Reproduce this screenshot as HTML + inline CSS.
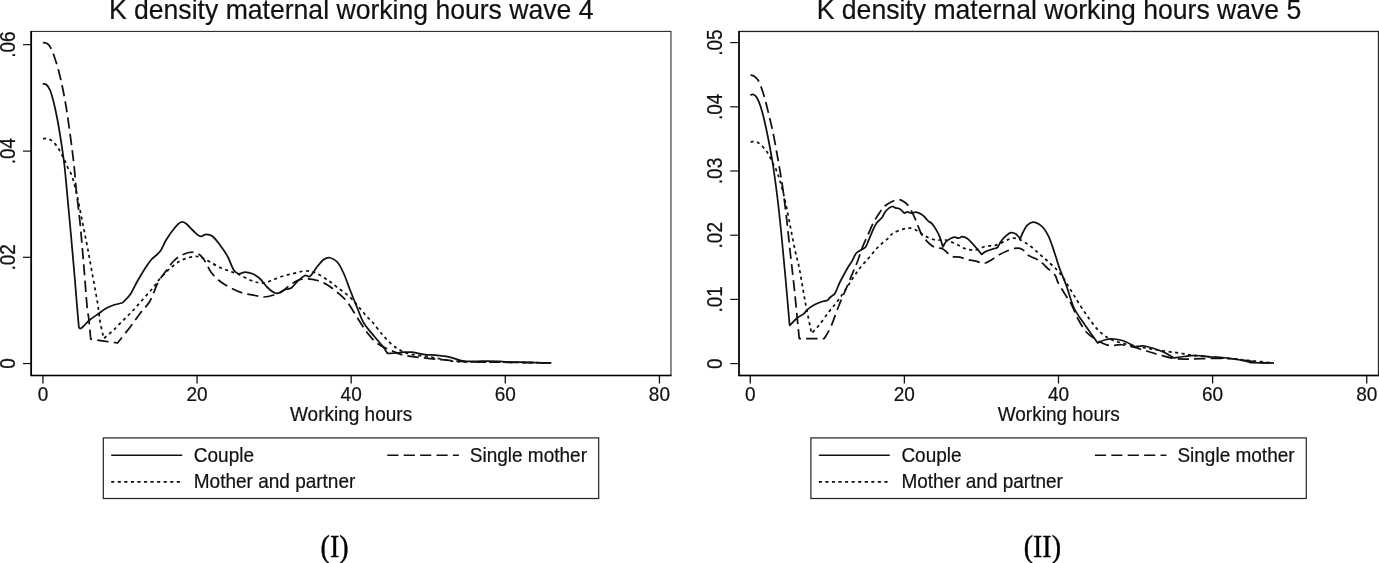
<!DOCTYPE html>
<html lang="en"><head><meta charset="utf-8"><title>K density maternal working hours</title>
<style>html,body{margin:0;padding:0;background:#fff}svg{display:block}</style></head>
<body>
<svg width="1379" height="563" viewBox="0 0 1379 563" font-family="'Liberation Sans', Arial, Helvetica, sans-serif" fill="#111" stroke="#111" stroke-width="0.2">
<rect width="1379" height="563" fill="#fff" stroke="none"/>
<rect x="31.2" y="31.45" width="639.75" height="344.05" fill="none" stroke="#333" stroke-width="1.15"/>
<path d="M31.2,30.95 V375.5 H671.45" fill="none" stroke="#000" stroke-width="1.7" stroke-linejoin="miter"/>
<line x1="42.95" y1="375.5" x2="42.95" y2="383.5" stroke="#111" stroke-width="1.3"/>
<text transform="translate(42.95,400.90) scale(1,1.04)" text-anchor="middle" font-size="19">0</text>
<line x1="197.07" y1="375.5" x2="197.07" y2="383.5" stroke="#111" stroke-width="1.3"/>
<text transform="translate(197.07,400.90) scale(1,1.04)" text-anchor="middle" font-size="19">20</text>
<line x1="351.19" y1="375.5" x2="351.19" y2="383.5" stroke="#111" stroke-width="1.3"/>
<text transform="translate(351.19,400.90) scale(1,1.04)" text-anchor="middle" font-size="19">40</text>
<line x1="505.31" y1="375.5" x2="505.31" y2="383.5" stroke="#111" stroke-width="1.3"/>
<text transform="translate(505.31,400.90) scale(1,1.04)" text-anchor="middle" font-size="19">60</text>
<line x1="659.43" y1="375.5" x2="659.43" y2="383.5" stroke="#111" stroke-width="1.3"/>
<text transform="translate(659.43,400.90) scale(1,1.04)" text-anchor="middle" font-size="19">80</text>
<line x1="23.0" y1="363.55" x2="31.2" y2="363.55" stroke="#111" stroke-width="1.2"/>
<text transform="translate(14.65,363.55) rotate(-90) scale(1,1.12)" text-anchor="middle" font-size="19">0</text>
<line x1="23.0" y1="257.30" x2="31.2" y2="257.30" stroke="#111" stroke-width="1.2"/>
<text transform="translate(14.65,257.30) rotate(-90) scale(1,1.12)" text-anchor="middle" font-size="19">.02</text>
<line x1="23.0" y1="151.10" x2="31.2" y2="151.10" stroke="#111" stroke-width="1.2"/>
<text transform="translate(14.65,151.10) rotate(-90) scale(1,1.12)" text-anchor="middle" font-size="19">.04</text>
<line x1="23.0" y1="44.65" x2="31.2" y2="44.65" stroke="#111" stroke-width="1.2"/>
<text transform="translate(14.65,44.65) rotate(-90) scale(1,1.12)" text-anchor="middle" font-size="19">.06</text>
<text transform="translate(351.20,19.20) scale(1,1.06)" text-anchor="middle" font-size="26.6">K density maternal working hours wave 4</text>
<text transform="translate(351.08,421.00) scale(1,1.04)" text-anchor="middle" font-size="19">Working hours</text>
<rect x="739.0" y="31.45" width="639.5" height="344.05" fill="none" stroke="#222" stroke-width="1.3"/>
<path d="M739.0,30.95 V375.5 H1379.0" fill="none" stroke="#000" stroke-width="1.45" stroke-linejoin="miter"/>
<line x1="750.25" y1="375.5" x2="750.25" y2="383.5" stroke="#111" stroke-width="1.3"/>
<text transform="translate(750.25,400.90) scale(1,1.04)" text-anchor="middle" font-size="19">0</text>
<line x1="904.37" y1="375.5" x2="904.37" y2="383.5" stroke="#111" stroke-width="1.3"/>
<text transform="translate(904.37,400.90) scale(1,1.04)" text-anchor="middle" font-size="19">20</text>
<line x1="1058.49" y1="375.5" x2="1058.49" y2="383.5" stroke="#111" stroke-width="1.3"/>
<text transform="translate(1058.49,400.90) scale(1,1.04)" text-anchor="middle" font-size="19">40</text>
<line x1="1212.61" y1="375.5" x2="1212.61" y2="383.5" stroke="#111" stroke-width="1.3"/>
<text transform="translate(1212.61,400.90) scale(1,1.04)" text-anchor="middle" font-size="19">60</text>
<line x1="1366.73" y1="375.5" x2="1366.73" y2="383.5" stroke="#111" stroke-width="1.3"/>
<text transform="translate(1366.73,400.90) scale(1,1.04)" text-anchor="middle" font-size="19">80</text>
<line x1="730.2" y1="363.60" x2="739.0" y2="363.60" stroke="#111" stroke-width="1.2"/>
<text transform="translate(721.80,363.60) rotate(-90) scale(1,1.12)" text-anchor="middle" font-size="19">0</text>
<line x1="730.2" y1="299.40" x2="739.0" y2="299.40" stroke="#111" stroke-width="1.2"/>
<text transform="translate(721.80,299.40) rotate(-90) scale(1,1.12)" text-anchor="middle" font-size="19">.01</text>
<line x1="730.2" y1="235.20" x2="739.0" y2="235.20" stroke="#111" stroke-width="1.2"/>
<text transform="translate(721.80,235.20) rotate(-90) scale(1,1.12)" text-anchor="middle" font-size="19">.02</text>
<line x1="730.2" y1="171.00" x2="739.0" y2="171.00" stroke="#111" stroke-width="1.2"/>
<text transform="translate(721.80,171.00) rotate(-90) scale(1,1.12)" text-anchor="middle" font-size="19">.03</text>
<line x1="730.2" y1="106.80" x2="739.0" y2="106.80" stroke="#111" stroke-width="1.2"/>
<text transform="translate(721.80,106.80) rotate(-90) scale(1,1.12)" text-anchor="middle" font-size="19">.04</text>
<line x1="730.2" y1="42.60" x2="739.0" y2="42.60" stroke="#111" stroke-width="1.2"/>
<text transform="translate(721.80,42.60) rotate(-90) scale(1,1.12)" text-anchor="middle" font-size="19">.05</text>
<text transform="translate(1059.00,19.20) scale(1,1.06)" text-anchor="middle" font-size="26.6">K density maternal working hours wave 5</text>
<text transform="translate(1058.75,421.00) scale(1,1.04)" text-anchor="middle" font-size="19">Working hours</text>
<path d="M42.75,83.75 C43.33,83.88 45.04,83.46 46.25,84.50 C47.46,85.54 48.75,87.00 50.00,90.00 C51.25,93.00 52.50,97.50 53.75,102.50 C55.00,107.50 56.25,113.33 57.50,120.00 C58.75,126.67 60.08,134.83 61.25,142.50 C62.42,150.17 63.46,156.83 64.50,166.00 C65.54,175.17 66.38,185.50 67.50,197.50 C68.62,209.50 70.08,225.08 71.25,238.00 C72.42,250.92 73.54,263.71 74.50,275.00 C75.46,286.29 76.27,297.00 77.00,305.75 C77.73,314.50 78.58,323.88 78.90,327.50 C79.08,327.67 79.57,328.42 80.00,328.50 C80.43,328.58 81.25,328.08 81.50,328.00 C81.88,327.67 82.33,327.38 83.75,326.00 C85.17,324.62 87.50,321.83 90.00,319.75 C92.50,317.67 96.25,315.29 98.75,313.50 C101.25,311.71 102.71,310.33 105.00,309.00 C107.29,307.67 109.58,306.54 112.50,305.50 C115.42,304.46 120.83,303.21 122.50,302.75 C123.75,301.42 127.50,298.38 130.00,294.75 C132.50,291.12 135.00,285.38 137.50,281.00 C140.00,276.62 142.71,272.04 145.00,268.50 C147.29,264.96 148.75,262.58 151.25,259.75 C153.75,256.92 157.50,254.83 160.00,251.50 C162.50,248.17 163.75,243.75 166.25,239.75 C168.75,235.75 172.50,230.46 175.00,227.50 C177.50,224.54 179.38,222.62 181.25,222.00 C183.12,221.38 184.38,222.42 186.25,223.75 C188.12,225.08 190.21,227.92 192.50,230.00 C194.79,232.08 197.71,235.54 200.00,236.25 C202.29,236.96 204.17,234.25 206.25,234.25 C208.33,234.25 210.21,234.46 212.50,236.25 C214.79,238.04 217.50,241.67 220.00,245.00 C222.50,248.33 225.21,252.08 227.50,256.25 C229.79,260.42 231.88,267.08 233.75,270.00 C235.62,272.92 236.88,273.42 238.75,273.75 C240.62,274.08 242.71,272.00 245.00,272.00 C247.29,272.00 250.00,272.62 252.50,273.75 C255.00,274.88 257.50,276.46 260.00,278.75 C262.50,281.04 265.00,285.12 267.50,287.50 C270.00,289.88 272.92,292.17 275.00,293.00 C277.08,293.83 278.33,293.08 280.00,292.50 C281.67,291.92 283.12,290.25 285.00,289.50 C286.88,288.75 289.17,289.38 291.25,288.00 C293.33,286.62 295.21,283.33 297.50,281.25 C299.79,279.17 302.92,276.33 305.00,275.50 C307.08,274.67 307.92,277.79 310.00,276.25 C312.08,274.71 315.21,269.04 317.50,266.25 C319.79,263.46 321.67,260.92 323.75,259.50 C325.83,258.08 327.71,257.29 330.00,257.75 C332.29,258.21 335.21,259.62 337.50,262.25 C339.79,264.88 341.67,268.92 343.75,273.50 C345.83,278.08 347.71,283.92 350.00,289.75 C352.29,295.58 355.21,302.96 357.50,308.50 C359.79,314.04 360.83,318.21 363.75,323.00 C366.67,327.79 371.88,333.42 375.00,337.25 C378.12,341.08 380.42,343.31 382.50,346.00 C384.58,348.69 386.67,352.17 387.50,353.40 C388.95,353.33 393.52,353.20 396.20,353.00 C398.88,352.80 400.90,352.33 403.60,352.20 C406.30,352.07 408.87,351.80 412.40,352.20 C415.93,352.60 420.65,354.08 424.80,354.60 C428.95,355.12 433.13,354.88 437.30,355.30 C441.47,355.72 445.63,356.17 449.80,357.10 C453.97,358.03 458.15,360.18 462.30,360.90 C466.45,361.62 470.55,361.38 474.70,361.40 C478.85,361.42 483.03,361.00 487.20,361.00 C491.37,361.00 495.53,361.22 499.70,361.40 C503.87,361.58 508.57,361.97 512.20,362.10 C515.83,362.23 514.99,362.05 521.50,362.20 C528.01,362.35 546.29,362.87 551.25,363.00" fill="none" stroke="#111" stroke-width="1.75" stroke-linejoin="round"/>
<path d="M42.90,42.60 C43.67,42.79 46.11,42.73 47.50,43.75 C48.89,44.77 50.00,46.25 51.25,48.75 C52.50,51.25 53.75,55.00 55.00,58.75 C56.25,62.50 57.50,66.46 58.75,71.25 C60.00,76.04 61.25,81.46 62.50,87.50 C63.75,93.54 65.08,100.42 66.25,107.50 C67.42,114.58 68.46,122.50 69.50,130.00 C70.54,137.50 71.67,145.83 72.50,152.50 C73.33,159.17 73.88,163.75 74.50,170.00 C75.12,176.25 75.33,181.25 76.25,190.00 C77.17,198.75 78.75,210.00 80.00,222.50 C81.25,235.00 82.58,251.12 83.75,265.00 C84.92,278.88 86.17,296.83 87.00,305.75 C87.83,314.67 88.12,312.92 88.75,318.50 C89.38,324.08 90.42,335.79 90.75,339.25 C95.21,339.88 113.04,342.38 117.50,343.00 C119.58,340.38 126.25,332.17 130.00,327.25 C133.75,322.33 136.67,317.88 140.00,313.50 C143.33,309.12 147.08,306.00 150.00,301.00 C152.92,296.00 155.00,288.29 157.50,283.50 C160.00,278.71 162.29,276.00 165.00,272.25 C167.71,268.50 170.83,263.92 173.75,261.00 C176.67,258.08 179.38,256.21 182.50,254.75 C185.62,253.29 189.58,252.21 192.50,252.25 C195.42,252.29 197.92,253.50 200.00,255.00 C202.08,256.50 203.12,258.33 205.00,261.25 C206.88,264.17 208.75,269.17 211.25,272.50 C213.75,275.83 216.88,278.75 220.00,281.25 C223.12,283.75 226.25,285.54 230.00,287.50 C233.75,289.46 238.33,291.67 242.50,293.00 C246.67,294.33 251.46,294.83 255.00,295.50 C258.54,296.17 260.62,297.08 263.75,297.00 C266.88,296.92 270.62,295.96 273.75,295.00 C276.88,294.04 279.79,292.92 282.50,291.25 C285.21,289.58 287.29,286.88 290.00,285.00 C292.71,283.12 295.83,281.04 298.75,280.00 C301.67,278.96 304.38,278.67 307.50,278.75 C310.62,278.83 314.17,279.46 317.50,280.50 C320.83,281.54 324.17,283.00 327.50,285.00 C330.83,287.00 334.17,289.62 337.50,292.50 C340.83,295.38 344.17,298.00 347.50,302.25 C350.83,306.50 354.17,312.88 357.50,318.00 C360.83,323.12 364.17,328.75 367.50,333.00 C370.83,337.25 373.75,340.67 377.50,343.50 C381.25,346.33 385.42,348.00 390.00,350.00 C394.58,352.00 398.33,354.07 405.00,355.50 C411.67,356.93 422.92,357.82 430.00,358.60 C437.08,359.38 441.67,359.68 447.50,360.20 C453.33,360.72 455.42,361.36 465.00,361.70 C474.58,362.04 490.62,362.03 505.00,362.25 C519.38,362.47 543.54,362.88 551.25,363.00" fill="none" stroke="#111" stroke-width="1.75" stroke-dasharray="11.2 5.2" stroke-linejoin="round"/>
<path d="M43.00,138.75 C43.75,138.71 45.92,138.08 47.50,138.50 C49.08,138.92 50.83,139.83 52.50,141.25 C54.17,142.67 56.04,144.92 57.50,147.00 C58.96,149.08 60.00,151.38 61.25,153.75 C62.50,156.12 63.88,158.88 65.00,161.25 C66.12,163.62 66.75,165.29 68.00,168.00 C69.25,170.71 70.92,172.58 72.50,177.50 C74.08,182.42 75.83,190.00 77.50,197.50 C79.17,205.00 80.83,214.17 82.50,222.50 C84.17,230.83 85.83,238.75 87.50,247.50 C89.17,256.25 90.83,265.83 92.50,275.00 C94.17,284.17 96.25,294.83 97.50,302.50 C98.75,310.17 98.96,315.00 100.00,321.00 C101.04,327.00 103.12,335.58 103.75,338.50 C105.21,337.25 109.38,333.92 112.50,331.00 C115.62,328.08 119.17,324.33 122.50,321.00 C125.83,317.67 129.17,314.54 132.50,311.00 C135.83,307.46 139.17,303.50 142.50,299.75 C145.83,296.00 149.58,292.04 152.50,288.50 C155.42,284.96 157.08,281.83 160.00,278.50 C162.92,275.17 166.67,271.42 170.00,268.50 C173.33,265.58 176.67,262.88 180.00,261.00 C183.33,259.12 187.08,258.00 190.00,257.25 C192.92,256.50 195.42,256.38 197.50,256.50 C199.58,256.62 200.42,257.08 202.50,258.00 C204.58,258.92 207.08,260.42 210.00,262.00 C212.92,263.58 216.67,265.96 220.00,267.50 C223.33,269.04 226.67,270.00 230.00,271.25 C233.33,272.50 236.67,273.54 240.00,275.00 C243.33,276.46 247.08,278.75 250.00,280.00 C252.92,281.25 255.00,282.00 257.50,282.50 C260.00,283.00 262.50,283.42 265.00,283.00 C267.50,282.58 269.58,281.12 272.50,280.00 C275.42,278.88 279.17,277.29 282.50,276.25 C285.83,275.21 289.17,274.58 292.50,273.75 C295.83,272.92 299.58,271.67 302.50,271.25 C305.42,270.83 307.50,270.83 310.00,271.25 C312.50,271.67 314.58,272.29 317.50,273.75 C320.42,275.21 324.17,277.71 327.50,280.00 C330.83,282.29 333.75,284.62 337.50,287.50 C341.25,290.38 346.25,293.75 350.00,297.25 C353.75,300.75 357.08,305.17 360.00,308.50 C362.92,311.83 365.42,314.96 367.50,317.25 C369.58,319.54 370.00,319.33 372.50,322.25 C375.00,325.17 379.38,331.12 382.50,334.75 C385.62,338.38 388.33,341.46 391.25,344.00 C394.17,346.54 396.88,348.33 400.00,350.00 C403.12,351.67 405.00,352.83 410.00,354.00 C415.00,355.17 423.75,355.97 430.00,357.00 C436.25,358.03 442.50,359.42 447.50,360.20 C452.50,360.98 450.42,361.36 460.00,361.70 C469.58,362.04 489.79,362.03 505.00,362.25 C520.21,362.47 543.54,362.88 551.25,363.00" fill="none" stroke="#111" stroke-width="1.75" stroke-dasharray="3.1 3.46"/>
<path d="M750.25,95.00 C750.79,94.92 752.42,94.08 753.50,94.50 C754.58,94.92 755.58,95.54 756.75,97.50 C757.92,99.46 759.25,102.50 760.50,106.25 C761.75,110.00 763.00,114.79 764.25,120.00 C765.50,125.21 766.75,131.25 768.00,137.50 C769.25,143.75 770.79,152.08 771.75,157.50 C772.71,162.92 772.71,162.50 773.75,170.00 C774.79,177.50 776.67,191.17 778.00,202.50 C779.33,213.83 780.50,225.42 781.75,238.00 C783.00,250.58 784.19,263.50 785.50,278.00 C786.81,292.50 788.92,317.17 789.60,325.00 C789.73,324.97 789.20,325.92 790.40,324.80 C791.60,323.68 794.58,320.12 796.80,318.30 C799.02,316.48 801.93,315.35 803.70,313.90 C805.47,312.45 805.53,311.15 807.40,309.60 C809.27,308.05 812.40,305.95 814.90,304.60 C817.40,303.25 820.32,302.18 822.40,301.50 C824.48,300.82 826.57,300.67 827.40,300.50 C828.02,299.83 829.85,297.68 831.10,296.50 C832.35,295.32 833.75,295.07 834.90,293.40 C836.05,291.73 837.07,288.57 838.00,286.50 C838.93,284.43 838.83,284.21 840.50,281.00 C842.17,277.79 846.10,270.52 848.00,267.25 C849.90,263.98 850.53,263.72 851.90,261.40 C853.27,259.07 854.55,255.27 856.20,253.30 C857.85,251.33 860.23,250.63 861.80,249.60 C863.37,248.57 864.45,248.67 865.60,247.10 C866.75,245.53 867.45,243.12 868.70,240.20 C869.95,237.28 871.75,232.50 873.10,229.60 C874.45,226.70 875.35,224.77 876.80,222.80 C878.25,220.83 880.45,219.57 881.80,217.80 C883.15,216.03 883.75,213.77 884.90,212.20 C886.05,210.63 887.45,209.35 888.70,208.40 C889.95,207.45 891.27,206.60 892.40,206.50 C893.53,206.40 894.25,207.38 895.50,207.80 C896.75,208.22 898.43,208.10 899.90,209.00 C901.37,209.90 903.57,212.50 904.30,213.20 C904.82,212.98 906.27,211.90 907.40,211.90 C908.53,211.90 909.65,213.15 911.10,213.20 C912.55,213.25 914.33,212.00 916.10,212.20 C917.87,212.40 920.25,213.58 921.70,214.40 C923.15,215.22 923.75,216.02 924.80,217.10 C925.85,218.18 926.85,219.85 928.00,220.90 C929.15,221.95 930.35,221.95 931.70,223.40 C933.05,224.85 934.75,227.32 936.10,229.60 C937.45,231.88 938.67,234.22 939.80,237.10 C940.93,239.98 942.38,245.27 942.90,246.90 C943.42,246.00 944.85,242.82 946.00,241.50 C947.15,240.18 948.43,239.73 949.80,239.00 C951.17,238.27 952.75,237.25 954.20,237.10 C955.65,236.95 957.15,238.17 958.50,238.10 C959.85,238.03 960.83,236.62 962.30,236.70 C963.77,236.78 965.65,237.50 967.30,238.60 C968.95,239.70 970.55,241.57 972.20,243.30 C973.85,245.03 975.63,247.15 977.20,249.00 C978.77,250.85 980.87,253.50 981.60,254.40 C982.33,253.90 984.43,252.20 986.00,251.40 C987.57,250.60 989.45,250.12 991.00,249.60 C992.55,249.08 994.17,248.72 995.30,248.30 C996.43,247.88 996.87,248.23 997.80,247.10 C998.73,245.97 999.55,243.37 1000.90,241.50 C1002.25,239.63 1004.23,237.37 1005.90,235.90 C1007.57,234.43 1009.23,233.02 1010.90,232.70 C1012.57,232.38 1014.33,232.98 1015.90,234.00 C1017.47,235.02 1019.57,238.00 1020.30,238.80 C1020.77,237.67 1021.92,234.27 1023.10,232.00 C1024.28,229.73 1025.75,226.85 1027.40,225.20 C1029.05,223.55 1031.12,222.32 1033.00,222.10 C1034.88,221.88 1036.92,222.87 1038.70,223.90 C1040.48,224.93 1042.05,226.22 1043.70,228.30 C1045.35,230.38 1047.15,233.38 1048.60,236.40 C1050.05,239.42 1051.15,242.87 1052.40,246.40 C1053.65,249.93 1054.95,254.07 1056.10,257.60 C1057.25,261.13 1057.57,262.87 1059.30,267.60 C1061.03,272.33 1064.05,279.27 1066.50,286.00 C1068.95,292.73 1071.08,301.75 1074.00,308.00 C1076.92,314.25 1080.88,318.83 1084.00,323.50 C1087.12,328.17 1090.46,332.75 1092.75,336.00 C1095.04,339.25 1096.92,341.83 1097.75,343.00 C1099.00,342.46 1102.54,340.42 1105.25,339.75 C1107.96,339.08 1110.88,338.79 1114.00,339.00 C1117.12,339.21 1120.46,339.71 1124.00,341.00 C1127.54,342.29 1133.38,345.79 1135.25,346.75 C1136.71,346.62 1140.88,345.71 1144.00,346.00 C1147.12,346.29 1150.67,347.46 1154.00,348.50 C1157.33,349.54 1160.67,350.67 1164.00,352.25 C1167.33,353.83 1172.33,357.04 1174.00,358.00 C1175.67,357.75 1180.25,356.92 1184.00,356.50 C1187.75,356.08 1192.33,355.46 1196.50,355.50 C1200.67,355.54 1204.42,356.38 1209.00,356.75 C1213.58,357.12 1219.00,357.25 1224.00,357.75 C1229.00,358.25 1234.42,358.92 1239.00,359.75 C1243.58,360.58 1249.42,362.25 1251.50,362.75 C1255.25,362.79 1270.25,362.96 1274.00,363.00" fill="none" stroke="#111" stroke-width="1.75" stroke-linejoin="round"/>
<path d="M750.50,75.00 C751.12,75.21 753.00,75.42 754.25,76.25 C755.50,77.08 756.75,77.92 758.00,80.00 C759.25,82.08 760.50,85.21 761.75,88.75 C763.00,92.29 764.25,96.67 765.50,101.25 C766.75,105.83 768.00,111.04 769.25,116.25 C770.50,121.46 771.75,126.46 773.00,132.50 C774.25,138.54 775.67,146.58 776.75,152.50 C777.83,158.42 778.46,161.75 779.50,168.00 C780.54,174.25 781.79,181.33 783.00,190.00 C784.21,198.67 785.50,209.17 786.75,220.00 C788.00,230.83 789.25,243.67 790.50,255.00 C791.75,266.33 792.79,274.08 794.25,288.00 C795.71,301.92 798.42,330.08 799.25,338.50 C803.42,338.50 820.08,338.50 824.25,338.50 C825.70,336.42 828.85,331.42 831.20,326.00 C833.55,320.58 836.20,312.25 838.70,306.00 C841.20,299.75 843.73,294.33 846.20,288.50 C848.67,282.67 851.62,275.50 853.50,271.00 C855.38,266.50 856.00,265.48 857.50,261.50 C859.00,257.52 860.83,251.37 862.50,247.10 C864.17,242.83 865.63,240.05 867.50,235.90 C869.37,231.75 871.63,226.15 873.70,222.20 C875.77,218.25 878.03,214.90 879.90,212.20 C881.77,209.50 883.02,207.70 884.90,206.00 C886.78,204.30 889.02,203.08 891.20,202.00 C893.38,200.92 895.93,199.57 898.00,199.50 C900.07,199.43 901.93,200.63 903.60,201.60 C905.27,202.57 906.53,203.43 908.00,205.30 C909.47,207.17 911.05,210.20 912.40,212.80 C913.75,215.40 914.65,217.47 916.10,220.90 C917.55,224.33 919.43,230.17 921.10,233.40 C922.77,236.63 924.23,238.22 926.10,240.30 C927.97,242.38 930.43,244.65 932.30,245.90 C934.17,247.15 935.53,247.28 937.30,247.80 C939.07,248.32 941.23,248.18 942.90,249.00 C944.57,249.82 945.73,251.45 947.30,252.70 C948.87,253.95 950.22,255.77 952.30,256.50 C954.38,257.23 957.30,256.58 959.80,257.10 C962.30,257.62 964.82,258.97 967.30,259.60 C969.78,260.23 972.42,260.40 974.70,260.90 C976.98,261.40 979.20,262.25 981.00,262.60 C982.80,262.95 983.83,263.40 985.50,263.00 C987.17,262.60 989.05,261.38 991.00,260.20 C992.95,259.02 994.72,257.35 997.20,255.90 C999.68,254.45 1002.98,252.75 1005.90,251.50 C1008.82,250.25 1012.35,248.93 1014.70,248.40 C1017.05,247.87 1018.40,247.90 1020.00,248.30 C1021.60,248.70 1022.95,249.67 1024.30,250.80 C1025.65,251.93 1026.63,253.97 1028.10,255.10 C1029.57,256.23 1031.33,256.77 1033.10,257.60 C1034.87,258.43 1037.15,259.17 1038.70,260.10 C1040.25,261.03 1041.15,262.05 1042.40,263.20 C1043.65,264.35 1044.12,265.03 1046.20,267.00 C1048.28,268.97 1052.93,272.42 1054.90,275.00 C1056.87,277.58 1056.23,279.17 1058.00,282.50 C1059.77,285.83 1063.21,291.25 1065.50,295.00 C1067.79,298.75 1069.71,301.08 1071.75,305.00 C1073.79,308.92 1075.29,313.96 1077.75,318.50 C1080.21,323.04 1083.38,328.71 1086.50,332.25 C1089.62,335.79 1092.75,337.54 1096.50,339.75 C1100.25,341.96 1104.83,344.67 1109.00,345.50 C1113.17,346.33 1117.33,344.46 1121.50,344.75 C1125.67,345.04 1129.83,346.21 1134.00,347.25 C1138.17,348.29 1142.33,349.75 1146.50,351.00 C1150.67,352.25 1154.42,353.50 1159.00,354.75 C1163.58,356.00 1169.00,357.79 1174.00,358.50 C1179.00,359.21 1183.17,359.00 1189.00,359.00 C1194.83,359.00 1202.33,358.58 1209.00,358.50 C1215.67,358.42 1222.75,358.17 1229.00,358.50 C1235.25,358.83 1241.50,359.88 1246.50,360.50 C1251.50,361.12 1254.42,361.83 1259.00,362.25 C1263.58,362.67 1271.50,362.88 1274.00,363.00" fill="none" stroke="#111" stroke-width="1.75" stroke-dasharray="11.2 5.2" stroke-linejoin="round"/>
<path d="M750.50,142.00 C751.33,141.92 753.83,141.08 755.50,141.50 C757.17,141.92 758.83,143.08 760.50,144.50 C762.17,145.92 764.04,148.17 765.50,150.00 C766.96,151.83 768.00,153.21 769.25,155.50 C770.50,157.79 771.96,161.67 773.00,163.75 C774.04,165.83 774.25,164.88 775.50,168.00 C776.75,171.12 778.83,176.75 780.50,182.50 C782.17,188.25 783.83,195.00 785.50,202.50 C787.17,210.00 788.83,219.17 790.50,227.50 C792.17,235.83 794.04,245.75 795.50,252.50 C796.96,259.25 797.58,259.50 799.25,268.00 C800.92,276.50 803.44,292.60 805.50,303.50 C807.56,314.40 810.58,328.42 811.60,333.40 C812.80,332.08 815.93,329.07 818.80,325.50 C821.67,321.93 825.47,316.33 828.80,312.00 C832.13,307.67 835.47,304.08 838.80,299.50 C842.13,294.92 845.47,289.50 848.80,284.50 C852.13,279.50 855.52,273.88 858.80,269.50 C862.08,265.12 865.30,261.97 868.50,258.25 C871.70,254.53 874.75,250.51 878.00,247.20 C881.25,243.89 885.50,240.73 888.00,238.40 C890.50,236.07 890.50,234.73 893.00,233.20 C895.50,231.67 900.08,230.03 903.00,229.20 C905.92,228.37 908.00,227.85 910.50,228.20 C913.00,228.55 915.50,229.96 918.00,231.30 C920.50,232.64 922.58,234.80 925.50,236.25 C928.42,237.70 932.17,239.38 935.50,240.00 C938.83,240.62 942.17,239.38 945.50,240.00 C948.83,240.62 952.17,242.29 955.50,243.75 C958.83,245.21 962.17,247.71 965.50,248.75 C968.83,249.79 972.17,250.42 975.50,250.00 C978.83,249.58 982.17,247.03 985.50,246.25 C988.83,245.47 992.17,246.21 995.50,245.30 C998.83,244.39 1002.67,242.00 1005.50,240.80 C1008.33,239.60 1010.08,238.28 1012.50,238.10 C1014.92,237.92 1017.00,238.34 1020.00,239.70 C1023.00,241.06 1027.08,243.70 1030.50,246.25 C1033.92,248.80 1037.17,252.08 1040.50,255.00 C1043.83,257.92 1047.17,260.58 1050.50,263.75 C1053.83,266.92 1057.17,269.67 1060.50,274.00 C1063.83,278.33 1067.42,284.83 1070.50,289.75 C1073.58,294.67 1075.92,298.71 1079.00,303.50 C1082.08,308.29 1085.67,313.92 1089.00,318.50 C1092.33,323.08 1095.67,327.67 1099.00,331.00 C1102.33,334.33 1105.67,336.62 1109.00,338.50 C1112.33,340.38 1114.83,341.00 1119.00,342.25 C1123.17,343.50 1129.00,344.96 1134.00,346.00 C1139.00,347.04 1144.00,347.67 1149.00,348.50 C1154.00,349.33 1159.00,350.25 1164.00,351.00 C1169.00,351.75 1174.00,352.25 1179.00,353.00 C1184.00,353.75 1188.17,354.79 1194.00,355.50 C1199.83,356.21 1207.33,356.67 1214.00,357.25 C1220.67,357.83 1227.33,358.38 1234.00,359.00 C1240.67,359.62 1247.33,360.33 1254.00,361.00 C1260.67,361.67 1270.67,362.67 1274.00,363.00" fill="none" stroke="#111" stroke-width="1.75" stroke-dasharray="3.1 3.46"/>
<rect x="103.3" y="437.9" width="495.4" height="60.6" fill="#fff" stroke="#222" stroke-width="1.2"/>
<line x1="111.2" y1="455.2" x2="182.2" y2="455.2" stroke="#111" stroke-width="1.6"/>
<text transform="translate(193.80,461.80) scale(1,1.04)" text-anchor="start" font-size="19">Couple</text>
<line x1="387.3" y1="455.2" x2="458.90000000000003" y2="455.2" stroke="#111" stroke-width="1.6" stroke-dasharray="11.2 5.2"/>
<text transform="translate(469.80,461.80) scale(1,1.04)" text-anchor="start" font-size="19">Single mother</text>
<line x1="111.2" y1="481.9" x2="182.2" y2="481.9" stroke="#111" stroke-width="1.6" stroke-dasharray="3.1 3.46"/>
<text transform="translate(193.80,488.20) scale(1,1.04)" text-anchor="start" font-size="19">Mother and partner</text>
<rect x="810.9" y="437.9" width="495.4" height="60.6" fill="#fff" stroke="#222" stroke-width="1.2"/>
<line x1="818.8" y1="455.2" x2="889.8" y2="455.2" stroke="#111" stroke-width="1.6"/>
<text transform="translate(901.40,461.80) scale(1,1.04)" text-anchor="start" font-size="19">Couple</text>
<line x1="1094.9" y1="455.2" x2="1166.5" y2="455.2" stroke="#111" stroke-width="1.6" stroke-dasharray="11.2 5.2"/>
<text transform="translate(1177.40,461.80) scale(1,1.04)" text-anchor="start" font-size="19">Single mother</text>
<line x1="818.8" y1="481.9" x2="889.8" y2="481.9" stroke="#111" stroke-width="1.6" stroke-dasharray="3.1 3.46"/>
<text transform="translate(901.40,488.20) scale(1,1.04)" text-anchor="start" font-size="19">Mother and partner</text>
<text transform="translate(334.6,557.1) scale(1,1.14)" text-anchor="middle" font-size="28" stroke="#000" stroke-width="0.35" font-family="'Liberation Serif', 'Times New Roman', serif" fill="#000">(I)</text>
<text transform="translate(1042.3,557.1) scale(1,1.14)" text-anchor="middle" font-size="28" stroke="#000" stroke-width="0.35" font-family="'Liberation Serif', 'Times New Roman', serif" fill="#000">(II)</text>
</svg>
</body></html>
